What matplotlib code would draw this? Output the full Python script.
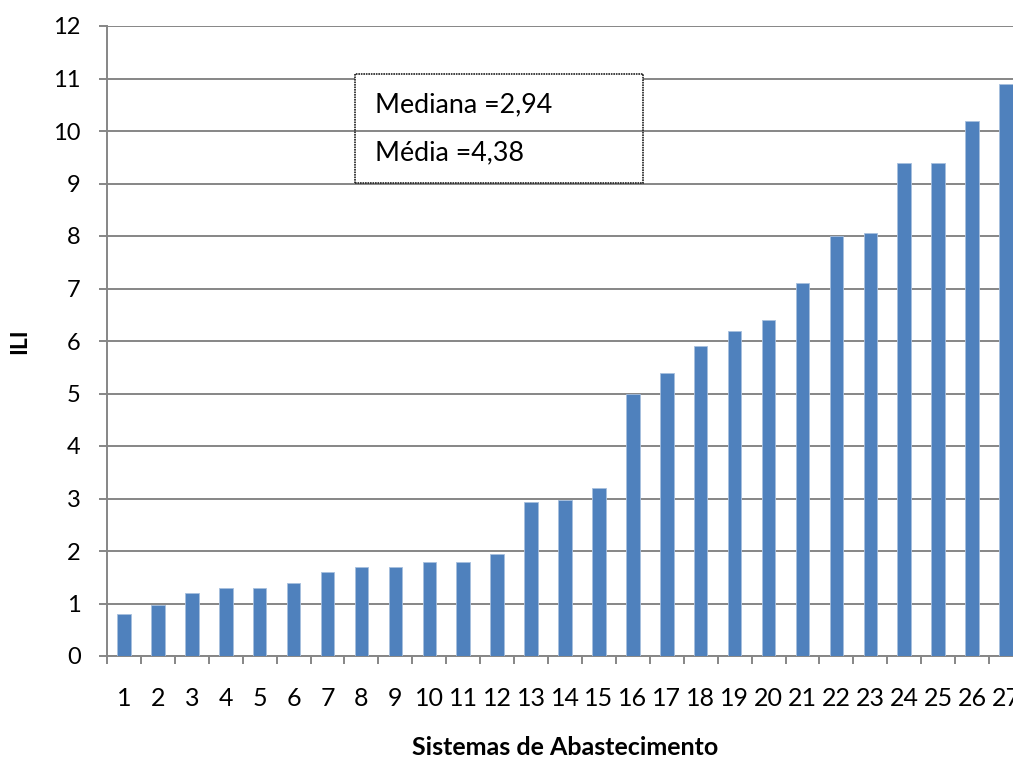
import numpy as np
import matplotlib.pyplot as plt
from matplotlib.patches import Rectangle

plt.rcParams['font.family'] = ['Lato', 'DejaVu Sans']

# ILI por sistema de abastecimento (ordenado)
sistemas = list(range(1, 28))
ili = [0.80, 0.98, 1.20, 1.30, 1.30, 1.40, 1.60, 1.70, 1.70, 1.80, 1.80, 1.95,
       2.94, 2.98, 3.20, 5.00, 5.40, 5.90, 6.20, 6.40, 7.10, 8.00, 8.05,
       9.40, 9.40, 10.20, 10.90]
mediana = 2.94
media = 4.38

grid_c = '#868686'
bar_c = '#4F81BD'

fig = plt.figure(figsize=(10.13, 7.58), dpi=100)
# a área do gráfico continua além da borda direita da figura
ax = fig.add_axes([107 / 1013, 102 / 758, 916 / 1013, 630 / 758])

x = np.arange(len(sistemas))
ax.bar(x, ili, width=0.4, color=bar_c, edgecolor='#A7BFDE', linewidth=0.6, zorder=3)

ax.set_xlim(-0.5, len(sistemas) - 0.5)
ax.set_ylim(0, 12)
ax.set_yticks(range(0, 13))
ax.yaxis.grid(True, color=grid_c, linewidth=1.4, zorder=1)
ax.set_axisbelow(True)

ax.set_xticks(x)
ax.set_xticklabels([str(s) for s in sistemas])
ax.set_xticks(np.arange(-0.5, len(sistemas)), minor=True)
ax.tick_params(axis='x', which='major', length=0, pad=22, labelsize=18)
ax.tick_params(axis='x', which='minor', length=6, width=1.4, color=grid_c, direction='out')
ax.tick_params(axis='y', length=6, width=1.4, color=grid_c, pad=13, labelsize=17)

for side in ['top', 'right']:
    ax.spines[side].set_visible(False)
for side in ['left', 'bottom']:
    ax.spines[side].set_color(grid_c)
    ax.spines[side].set_linewidth(1.4)

fig.text(565 / 1013, 3 / 758, 'Sistemas de Abastecimento', ha='center', va='baseline',
         fontsize=18, fontweight='bold')
fig.text(20 / 1013, 1 - 341 / 758, 'ILI', ha='center', va='center', rotation=90,
         fontsize=16.5, fontweight='bold')

# caixa com mediana e média
bx0, bx1 = (355 - 107) / 916, (643 - 107) / 916
by0, by1 = 9.01, 11.086
trans = ax.get_yaxis_transform()
ax.add_patch(Rectangle((bx0, 10.5), bx1 - bx0, by1 - 10.5, transform=trans,
                       facecolor='white', edgecolor='none', zorder=4))
ax.add_patch(Rectangle((bx0, by0), bx1 - bx0, by1 - by0, transform=trans,
                       facecolor='none', edgecolor='#222222', linewidth=1.2,
                       linestyle=(0, (1, 0.5)), zorder=5))
tx = (375 - 107) / 916
ax.text(tx, 10.36, 'Mediana =' + f'{mediana:.2f}'.replace('.', ','), transform=trans,
        ha='left', va='baseline', fontsize=19.4, zorder=6)
ax.text(tx, 9.448, 'Média =' + f'{media:.2f}'.replace('.', ','), transform=trans,
        ha='left', va='baseline', fontsize=19.4, zorder=6)

fig.savefig('out.png', dpi=100)
